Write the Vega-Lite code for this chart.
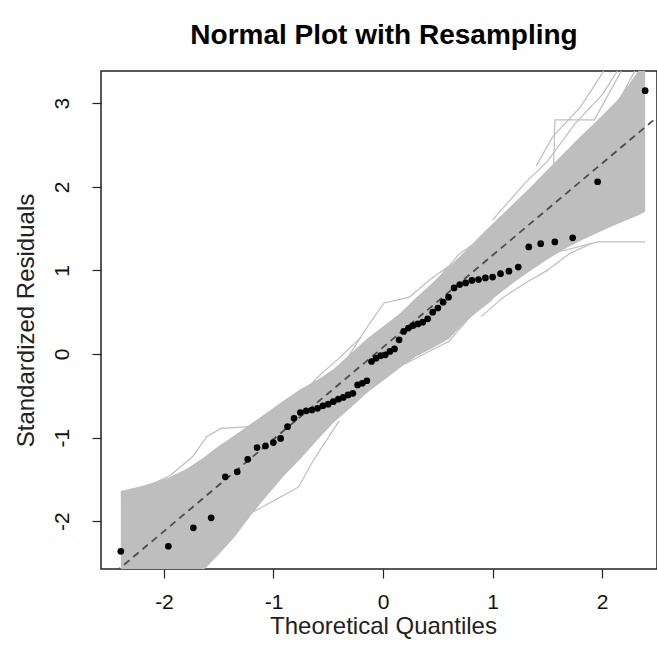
{
  "$schema": "https://vega.github.io/schema/vega-lite/v6.json",
  "width": 556,
  "height": 498,
  "autosize": {"type": "none"},
  "padding": {"left": 101, "top": 71, "right": 0, "bottom": 90},
  "background": "white",
  "title": {"text": "Normal Plot with Resampling", "font": "Liberation Sans", "fontSize": 28, "fontWeight": "bold", "color": "#000000", "baseline": "alphabetic", "frame": "group", "offset": 29, "dy": 30, "anchor": "middle", "dx": 5},
  "config": {
    "view": {"stroke": "#222222", "strokeWidth": 1.5},
    "axis": {"domain": false, "grid": false, "tickColor": "#222222", "tickSize": 9, "tickWidth": 1.2, "labelFont": "Liberation Sans", "labelFontSize": 21, "labelColor": "#111111", "titleFont": "Liberation Sans", "titleFontSize": 24, "titleFontWeight": "normal", "titleColor": "#222222", "labelExpr": "'' + datum.value"}
  },
  "datasets": {
    "band": [
      {"x": -2.394, "lo": -3.4, "hi": -1.64},
      {"x": -2.2, "lo": -3.2, "hi": -1.58},
      {"x": -1.96, "lo": -2.95, "hi": -1.48},
      {"x": -1.8, "lo": -2.78, "hi": -1.38},
      {"x": -1.65, "lo": -2.6, "hi": -1.25},
      {"x": -1.5, "lo": -2.4, "hi": -1.1},
      {"x": -1.35, "lo": -2.18, "hi": -0.97},
      {"x": -1.2, "lo": -1.92, "hi": -0.83},
      {"x": -1.05, "lo": -1.68, "hi": -0.69},
      {"x": -0.9, "lo": -1.45, "hi": -0.55},
      {"x": -0.75, "lo": -1.25, "hi": -0.42},
      {"x": -0.6, "lo": -1.03, "hi": -0.31},
      {"x": -0.45, "lo": -0.82, "hi": -0.18},
      {"x": -0.3, "lo": -0.65, "hi": 0.0},
      {"x": -0.15, "lo": -0.47, "hi": 0.18},
      {"x": 0, "lo": -0.32, "hi": 0.33},
      {"x": 0.15, "lo": -0.17, "hi": 0.48},
      {"x": 0.3, "lo": -0.03, "hi": 0.67},
      {"x": 0.45, "lo": 0.07, "hi": 0.85},
      {"x": 0.6, "lo": 0.18, "hi": 1.04},
      {"x": 0.75, "lo": 0.38, "hi": 1.23},
      {"x": 0.9, "lo": 0.55, "hi": 1.43},
      {"x": 1.05, "lo": 0.71, "hi": 1.62},
      {"x": 1.2, "lo": 0.86, "hi": 1.81},
      {"x": 1.35, "lo": 1.0, "hi": 2.0},
      {"x": 1.5, "lo": 1.13, "hi": 2.2},
      {"x": 1.65, "lo": 1.25, "hi": 2.4},
      {"x": 1.8, "lo": 1.35, "hi": 2.6},
      {"x": 1.96, "lo": 1.45, "hi": 2.8},
      {"x": 2.15, "lo": 1.56, "hi": 3.05},
      {"x": 2.332, "lo": 1.66, "hi": 3.385},
      {"x": 2.394, "lo": 1.7, "hi": 3.385}
    ],
    "lines": [
      {"g": "A", "x": -2.394, "y": -1.66}, {"g": "A", "x": -2.16, "y": -1.59}, {"g": "A", "x": -1.94, "y": -1.45}, {"g": "A", "x": -1.74, "y": -1.23}, {"g": "A", "x": -1.61, "y": -0.99}, {"g": "A", "x": -1.48, "y": -0.89}, {"g": "A", "x": -1.22, "y": -0.87}, {"g": "A", "x": -1.06, "y": -0.79}, {"g": "A", "x": -0.89, "y": -0.59}, {"g": "A", "x": -0.7, "y": -0.42},
      {"g": "B", "x": -0.35, "y": -0.1}, {"g": "B", "x": -0.12, "y": 0.37}, {"g": "B", "x": 0.01, "y": 0.61}, {"g": "B", "x": 0.24, "y": 0.68}, {"g": "B", "x": 0.43, "y": 0.89}, {"g": "B", "x": 0.6, "y": 1.05},
      {"g": "C", "x": -1.2, "y": -1.9}, {"g": "C", "x": -0.81, "y": -1.62}, {"g": "C", "x": -0.77, "y": -1.59}, {"g": "C", "x": -0.64, "y": -1.28}, {"g": "C", "x": -0.4, "y": -0.8},
      {"g": "D", "x": 1.2, "y": 1.6}, {"g": "D", "x": 1.55, "y": 1.88}, {"g": "D", "x": 1.57, "y": 2.8}, {"g": "D", "x": 1.93, "y": 2.8}, {"g": "D", "x": 2.177, "y": 3.385},
      {"g": "E", "x": 1.6, "y": 2.3}, {"g": "E", "x": 1.8, "y": 2.55}, {"g": "E", "x": 2.12, "y": 2.95}, {"g": "E", "x": 2.3, "y": 3.385},
      {"g": "F", "x": 1.3, "y": 1.05}, {"g": "F", "x": 1.6, "y": 1.22}, {"g": "F", "x": 1.96, "y": 1.34}, {"g": "F", "x": 2.394, "y": 1.34},
      {"g": "G", "x": 1.7, "y": 1.4}, {"g": "G", "x": 1.96, "y": 1.55}, {"g": "G", "x": 2.15, "y": 1.75}, {"g": "G", "x": 2.394, "y": 1.75},
      {"g": "J", "x": 0.2, "y": -0.12}, {"g": "J", "x": 0.45, "y": 0.05}, {"g": "J", "x": 0.6, "y": 0.15}, {"g": "J", "x": 0.8, "y": 0.45}, {"g": "J", "x": 1.0, "y": 0.65},
      {"g": "K", "x": 0.4, "y": 0.75}, {"g": "K", "x": 0.7, "y": 1.2}, {"g": "K", "x": 0.83, "y": 1.32}, {"g": "K", "x": 1.0, "y": 1.52},
      {"g": "L", "x": -1.0, "y": -0.72}, {"g": "L", "x": -0.8, "y": -0.55}, {"g": "L", "x": -0.55, "y": -0.22}, {"g": "L", "x": -0.4, "y": -0.05}, {"g": "L", "x": -0.2, "y": 0.2},
      {"g": "M", "x": 0.9, "y": 0.45}, {"g": "M", "x": 1.1, "y": 0.68}, {"g": "M", "x": 1.3, "y": 0.85}, {"g": "M", "x": 1.5, "y": 1.0}, {"g": "M", "x": 1.7, "y": 1.2}, {"g": "M", "x": 1.9, "y": 1.32},
      {"g": "N", "x": -2.394, "y": -1.7}, {"g": "N", "x": -2.0, "y": -1.62}, {"g": "N", "x": -1.6, "y": -1.45}, {"g": "N", "x": -1.3, "y": -1.15},
      {"g": "O", "x": 1.0, "y": 1.6}, {"g": "O", "x": 1.3, "y": 2.05}, {"g": "O", "x": 1.5, "y": 2.3}, {"g": "O", "x": 1.75, "y": 2.75}, {"g": "O", "x": 2.0, "y": 3.1}, {"g": "O", "x": 2.14, "y": 3.385},
      {"g": "P", "x": 1.4, "y": 2.25}, {"g": "P", "x": 1.55, "y": 2.6}, {"g": "P", "x": 1.8, "y": 2.95}, {"g": "P", "x": 2.0, "y": 3.35}, {"g": "P", "x": 2.014, "y": 3.385}
    ],
    "ref": [
      {"x": -2.7, "y": -2.89},
      {"x": 2.6, "y": 2.94}
    ],
    "pts": [
      {"x": -2.394, "y": -2.36}, {"x": -1.96, "y": -2.3}, {"x": -1.732, "y": -2.08}, {"x": -1.569, "y": -1.96}, {"x": -1.44, "y": -1.47},
      {"x": -1.331, "y": -1.41}, {"x": -1.235, "y": -1.26}, {"x": -1.15, "y": -1.12}, {"x": -1.073, "y": -1.1}, {"x": -1.001, "y": -1.06},
      {"x": -0.935, "y": -1.01}, {"x": -0.872, "y": -0.87}, {"x": -0.812, "y": -0.77}, {"x": -0.755, "y": -0.7}, {"x": -0.701, "y": -0.68},
      {"x": -0.649, "y": -0.67}, {"x": -0.598, "y": -0.65}, {"x": -0.549, "y": -0.62}, {"x": -0.501, "y": -0.6}, {"x": -0.454, "y": -0.57},
      {"x": -0.408, "y": -0.54}, {"x": -0.363, "y": -0.52}, {"x": -0.319, "y": -0.49}, {"x": -0.275, "y": -0.47}, {"x": -0.232, "y": -0.37},
      {"x": -0.189, "y": -0.35}, {"x": -0.147, "y": -0.32}, {"x": -0.105, "y": -0.09}, {"x": -0.063, "y": -0.05}, {"x": -0.021, "y": -0.02},
      {"x": 0.021, "y": -0.01}, {"x": 0.063, "y": 0.03}, {"x": 0.105, "y": 0.06}, {"x": 0.147, "y": 0.17}, {"x": 0.189, "y": 0.27},
      {"x": 0.232, "y": 0.31}, {"x": 0.275, "y": 0.34}, {"x": 0.319, "y": 0.36}, {"x": 0.363, "y": 0.38}, {"x": 0.408, "y": 0.42},
      {"x": 0.454, "y": 0.5}, {"x": 0.501, "y": 0.55}, {"x": 0.549, "y": 0.62}, {"x": 0.598, "y": 0.68}, {"x": 0.649, "y": 0.79},
      {"x": 0.701, "y": 0.83}, {"x": 0.755, "y": 0.85}, {"x": 0.812, "y": 0.88}, {"x": 0.872, "y": 0.89}, {"x": 0.935, "y": 0.91},
      {"x": 1.001, "y": 0.92}, {"x": 1.073, "y": 0.96}, {"x": 1.15, "y": 0.99}, {"x": 1.235, "y": 1.04}, {"x": 1.331, "y": 1.28},
      {"x": 1.44, "y": 1.32}, {"x": 1.569, "y": 1.34}, {"x": 1.732, "y": 1.39}, {"x": 1.96, "y": 2.06}, {"x": 2.394, "y": 3.15}
    ]
  },
  "layer": [
    {
      "data": {"name": "band"},
      "mark": {"type": "area", "color": "#bebebe", "clip": true},
      "encoding": {
        "x": {"field": "x", "type": "quantitative", "scale": {"domain": [-2.575, 2.502], "nice": false, "zero": false}, "axis": {"title": "Theoretical Quantiles", "values": [-2, -1, 0, 1, 2], "labelPadding": 13, "titleBaseline": "alphabetic", "titleY": 64, "titleX": 282}},
        "y": {"field": "lo", "type": "quantitative", "scale": {"domain": [-2.572, 3.385], "nice": false, "zero": false}, "axis": {"title": "Standardized Residuals", "values": [-2, -1, 0, 1, 2, 3], "labelAngle": 270, "labelAlign": "center", "labelBaseline": "alphabetic", "labelPadding": 24, "titleAngle": 270, "titleBaseline": "alphabetic", "titleAlign": "center", "titleX": -68, "titleY": 249}},
        "y2": {"field": "hi"}
      }
    },
    {
      "data": {"name": "lines"},
      "mark": {"type": "line", "color": "#bebebe", "strokeWidth": 1.2, "clip": true},
      "encoding": {
        "x": {"field": "x", "type": "quantitative"},
        "y": {"field": "y", "type": "quantitative"},
        "detail": {"field": "g", "type": "nominal"}
      }
    },
    {
      "data": {"name": "ref"},
      "mark": {"type": "line", "color": "#4d4d4d", "strokeWidth": 1.8, "strokeDash": [7, 5], "clip": true},
      "encoding": {
        "x": {"field": "x", "type": "quantitative"},
        "y": {"field": "y", "type": "quantitative"}
      }
    },
    {
      "data": {"name": "pts"},
      "mark": {"type": "circle", "color": "#000000", "size": 45, "opacity": 1},
      "encoding": {
        "x": {"field": "x", "type": "quantitative"},
        "y": {"field": "y", "type": "quantitative"}
      }
    }
  ]
}
